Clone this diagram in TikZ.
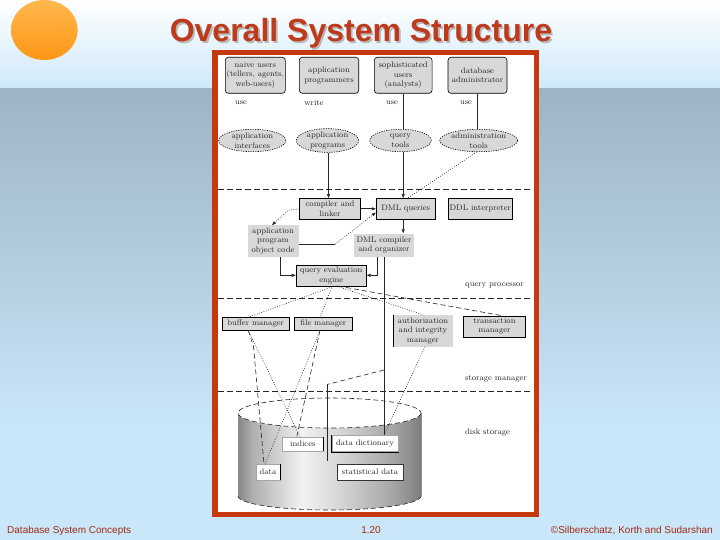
\documentclass[tikz,border=0pt]{standalone}
\usepackage{fontspec}
\newfontfamily\titlefont{Liberation Sans}
\usetikzlibrary{shapes.geometric,arrows.meta,calc}
\definecolor{boxgray}{RGB}{216,216,216}
\definecolor{bgA}{RGB}{206,233,250}
\definecolor{bgB}{RGB}{157,180,196}
\definecolor{bgC}{RGB}{202,230,249}
\definecolor{orgA}{RGB}{255,184,76}
\definecolor{orgB}{RGB}{255,150,22}
\definecolor{titlered}{RGB}{190,58,28}
\definecolor{framered}{RGB}{198,56,14}
\definecolor{footred}{RGB}{160,42,20}
\definecolor{cylA}{RGB}{135,135,135}
\definecolor{cylA2}{RGB}{175,175,175}
\definecolor{cylB}{RGB}{242,242,242}
\definecolor{cylB2}{RGB}{215,215,215}
\definecolor{cylC}{RGB}{165,165,165}
\definecolor{cylD}{RGB}{125,125,125}
\pgfdeclarehorizontalshading{cylshade}{100bp}{color(0bp)=(cylA); color(25bp)=(cylA); color(29bp)=(cylA2); color(42.5bp)=(cylB); color(52.5bp)=(cylB2); color(67.5bp)=(cylC); color(75bp)=(cylD); color(100bp)=(cylD)}
\newcommand\diagfont{\fontsize{8.1}{9.5}\selectfont}
\begin{document}
\begin{tikzpicture}[x=1pt,y=-1pt,
 every node/.style={font=\diagfont, text=black!85, inner sep=0pt, align=center},
 rbox/.style={draw=black, line width=0.6pt, fill=boxgray, rounded corners=3pt},
 gbox/.style={draw=black, line width=0.5pt, fill=boxgray},
 nbox/.style={fill=boxgray},
 ell/.style={ellipse, draw=black, dash pattern=on 1.2pt off 1.2pt, line width=0.6pt, fill=boxgray},
 wbox/.style={fill=white, draw=black!35, line width=0.4pt},
 conn/.style={line width=0.6pt, draw=black!85},
 tip/.style={-{Triangle[length=4pt,width=3pt]}},
 arr/.style={conn, tip},
 dotl/.style={conn, dash pattern=on 0.8pt off 1.6pt},
 dashl/.style={conn, dash pattern=on 5pt off 3pt},
 divl/.style={line width=0.7pt, draw=black!85, dash pattern=on 6pt off 3pt},
 foot/.style={font=\titlefont\fontsize{10}{12}\selectfont, text=footred},
 ttl/.style={font=\titlefont\bfseries\fontsize{32}{36}\selectfont, anchor=base}
]
\useasboundingbox (0,0) rectangle (720,540);
% background
\shade[top color=white, bottom color=bgA] (0,0) rectangle (720,89);
\shade[top color=bgB, bottom color=bgC] (0,89) rectangle (720,430);
\fill[bgC] (0,430) rectangle (720,540);
\shade[top color=orgA, bottom color=orgB] (44.3,30) ellipse [x radius=33.3, y radius=30];
% title
\node[ttl, text=gray!55] at (362.8,43.8) {Overall System Structure};
\node[ttl, text=titlered] (title) at (361,42) {Overall System Structure};
% frame
\fill[white] (215,52.5) rectangle (536.5,514.5);
% footers
\node[foot, anchor=west] (f1) at (7,530.5) {Database System Concepts};
\node[foot] (f2) at (371,530.5) {1.20};
\node[foot, anchor=east] (f3) at (713,530.5) {©Silberschatz, Korth and Sudarshan};

% dividers
\draw[divl] (218,189.5) -- (533,189.5);
\draw[divl] (218,298.3) -- (533,298.3);
\draw[divl] (218,391.7) -- (533,391.7);

% cylinder
\path[shading=cylshade] (238,413) -- (238,496) -- plot[domain=180:0,samples=60,variable=\t] ({329.5+91.5*cos(\t)},{496+14*sin(\t)}) -- (421,413) -- plot[domain=0:180,samples=60,variable=\t] ({329.5+91.5*cos(\t)},{413+15*sin(\t)}) -- cycle;
\draw[black!45, line width=0.4pt] (238,413) -- (238,496) (421,413) -- (421,496);
\draw[dashl, fill=white] (329.5,413) ellipse [x radius=91.5, y radius=15];
\draw[dashl] plot[domain=180:0,samples=60,variable=\t] ({329.5+91.5*cos(\t)},{496+14*sin(\t)});

% users
\node[rbox, minimum width=60pt, minimum height=36pt] (naive) at (255.3,75.3) {naive users\\(tellers, agents,\\web-users)};
\node[rbox, minimum width=59.4pt, minimum height=36pt] (appprog) at (329,75.3) {application\\programmers};
\node[rbox, minimum width=57.7pt, minimum height=36pt] (soph) at (403.2,75.3) {sophisticated\\users\\(analysts)};
\node[rbox, minimum width=59pt, minimum height=36pt] (dba) at (477.5,75.3) {database\\administrator};
\node (u1) at (241,102.5) {use};
\node (u2) at (314,102.5) {write};
\node (u3) at (392,102.5) {use};
\node (u4) at (466,102.5) {use};
% tools
\node[ell, minimum width=67.3pt, minimum height=22.4pt] (ifaces) at (252.3,140.5) {application\\interfaces};
\node[ell, minimum width=62.4pt, minimum height=22.4pt] (progE) at (327.5,140.5) {application\\programs};
\node[ell, minimum width=61.6pt, minimum height=22.4pt] (tools) at (400.5,140.5) {query\\tools};
\node[ell, minimum width=70pt, minimum height=22.4pt] (admin) at (478.7,140.5) {administration\\tools};
% query processor
\node[gbox, minimum width=61.2pt, minimum height=21pt] (compiler) at (330,208.8) {compiler and\\linker};
\node[gbox, minimum width=59.3pt, minimum height=21pt] (dmlq) at (405.7,208.8) {DML queries};
\node[gbox, minimum width=63.3pt, minimum height=21pt] (ddl) at (480.3,208.8) {DDL interpreter};
\node[nbox, minimum width=51pt, minimum height=31.4pt] (objcode) at (273,241) {application\\program\\object code};
\node[nbox, minimum width=60.2pt, minimum height=23.2pt] (dmlc) at (384,245.1) {DML compiler\\and organizer};
\node[gbox, minimum width=70.5pt, minimum height=21pt] (engine) at (331.2,275.3) {query evaluation\\engine};
\node[anchor=west] (qp) at (465,286) {query processor};
% storage manager
\node[gbox, minimum width=66.7pt, minimum height=12.7pt] (buffer) at (255.7,323.7) {buffer manager};
\node[gbox, minimum width=58pt, minimum height=12.7pt] (file) at (323.3,323.7) {file manager};
\node[nbox, minimum width=59.4pt, minimum height=31.7pt] (auth) at (423,330.8) {authorization\\and integrity\\manager};
\draw[line width=0.6pt] (auth.north west) -- (auth.south west);
\node[gbox, minimum width=62pt, minimum height=21.2pt] (trans) at (494.5,326.4) {transaction\\manager};
\node[anchor=west] (sm) at (465,379.3) {storage manager};
% disk storage
\node[anchor=west] (ds) at (465,432.7) {disk storage};
\node[wbox, minimum width=41pt, minimum height=14pt] (indices) at (302.8,443.7) {indices};
\node[wbox, minimum width=66.6pt, minimum height=16.7pt] (datadict) at (365,443.3) {data dictionary};
\node[wbox, minimum width=24pt, minimum height=15.7pt] (data) at (268,472.2) {data};
\node[wbox, draw=black!80, minimum width=66.6pt, minimum height=15.7pt] (statdata) at (370,472.2) {statistical data};
\draw[line width=0.6pt] (indices.north east) -- (indices.south east);
\draw[line width=0.6pt] (datadict.north west) -- (datadict.south west) -- (datadict.south east);
\draw[line width=0.6pt] (data.north east) -- (data.south east);

% connectors
\draw[conn] (soph.south) -- (soph.south |- tools.north);
\draw[conn] (dba.south) -- (dba.south |- admin.north);
\draw[arr] ([xshift=1pt]progE.south) -- ([xshift=1pt]progE.south |- compiler.north);
\draw[arr] (soph.south |- tools.south) -- (soph.south |- dmlq.north);
\draw[dotl] (admin.260) -- ([xshift=2pt]dmlq.north);
\draw[arr] (compiler.east) -- (compiler.east -| dmlq.west);
\draw[dotl, tip] (compiler.west) -- ++(-11,1.5) -- ([xshift=-1pt]objcode.north);
\coordinate (oc) at (335,244.3);
\draw[conn] (objcode.east |- oc) -- (oc);
\draw[dotl, tip] (oc) -- ([yshift=-3.7pt]dmlq.west);
\draw[arr] (soph.south |- dmlq.south) -- (soph.south |- dmlc.north);
\draw[arr] ([xshift=7.7pt]objcode.south) |- (engine.west);
\draw[arr] ([xshift=-6.7pt]dmlc.south) |- (engine.east);
\draw[conn] (dmlc.south) -- (dmlc.south |- datadict.north);
\draw[dotl] ([xshift=3pt]engine.south) -- ([xshift=-7pt]buffer.north);
\draw[dotl] ([xshift=1pt]engine.south) -- ([xshift=-3pt]file.north);
\draw[dotl] ([xshift=5pt]engine.south) -- (auth.north);
\draw[dashl] ([xshift=7pt]engine.south) -- ([xshift=7pt]trans.north);
\draw[dashl] ([xshift=-7.5pt]buffer.south) -- ++(5.3,16) -- ([xshift=-4pt]data.north);
\draw[dotl] ([xshift=-7.5pt]buffer.south) -- ([xshift=-2.8pt]indices.north);
\draw[dotl] ([xshift=-3.3pt]file.south) -- ([xshift=-3pt]data.north);
\draw[dashl] ([xshift=-3.3pt]file.south) -- ([xshift=-6pt]indices.north);
\draw[dotl] ([xshift=2pt]auth.south) -- ([xshift=19pt]datadict.north);
\coordinate (j1) at (384,370);
\coordinate (j2) at (327.7,384.3);
\coordinate (j3) at (327.7,461);
\draw[dashl] (j1) -- (j2);
\draw[conn] (j2) -- (j3);

% frame border
\draw[framered, line width=5.5pt] (215,52.5) rectangle (536.5,514.5);
\end{tikzpicture}
\end{document}
